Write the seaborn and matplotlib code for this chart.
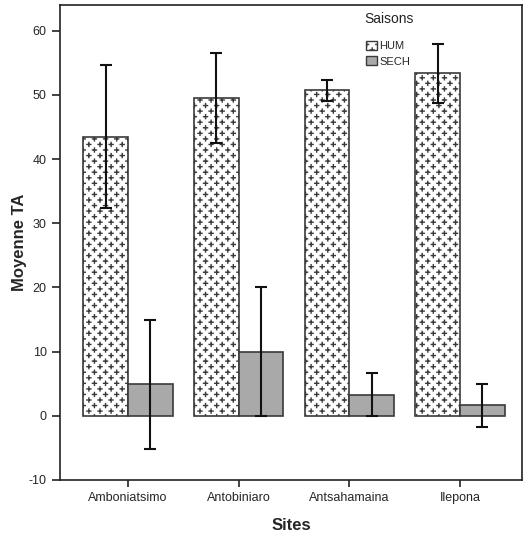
import numpy as np
import pandas as pd
import matplotlib
matplotlib.use("Agg")
import matplotlib.pyplot as plt
import matplotlib.hatch as mhatch
import matplotlib.patches as mpatches
from matplotlib.path import Path
import seaborn as sns

# ---------------- data ----------------
sites = ["Amboniatsimo", "Antobiniaro", "Antsahamaina", "Ilepona"]
seasons = ["HUM", "SECH"]
hum_mean = [43.5, 49.5, 50.7, 53.4]
hum_low = [32.4, 42.5, 49.1, 48.8]
hum_high = [54.6, 56.5, 52.3, 58.0]
sech_mean = [5.0, 10.0, 3.3, 1.7]
sech_low = [-5.1, 0.0, 0.0, -1.7]
sech_high = [15.0, 20.0, 6.7, 4.9]
yticks = [-10, 0, 10, 20, 30, 40, 50, 60]


# ---------------- custom "plus lattice" hatch (replaces '*') ----------------
class PlusLattice(mhatch.HatchPatternBase):
    def __init__(self, hatch, density):
        n = hatch.count('*') * 9
        self.pts = None
        if n:
            rows = 2 * n
            pts = []
            for r in range(rows + 1):
                y = r / rows
                if r % 2 == 0:
                    xs = np.arange(n + 1) / n
                else:
                    xs = (np.arange(n) + 0.5) / n
                for x in xs:
                    pts.append((x, y))
            self.pts = np.array(pts)
            self.num_vertices = len(pts) * 4
        else:
            self.num_vertices = 0

    def set_vertices_and_codes(self, vertices, codes):
        a = 0.02
        off = np.array([[-a, 0], [a, 0], [0, -a], [0, a]])
        cds = np.array([Path.MOVETO, Path.LINETO, Path.MOVETO, Path.LINETO])
        k = 0
        for p in self.pts:
            vertices[k:k + 4] = p + off
            codes[k:k + 4] = cds
            k += 4


mhatch._hatch_types = [PlusLattice if t is mhatch.Stars else t
                       for t in mhatch._hatch_types]

# ---------------- figure ----------------
sns.set_theme(style="ticks")
plt.rcParams['font.family'] = ['Liberation Sans', 'DejaVu Sans']
plt.rcParams['hatch.linewidth'] = 1.0

df = pd.DataFrame({
    "Sites": sites * 2,
    "Saisons": [seasons[0]] * len(sites) + [seasons[1]] * len(sites),
    "Moyenne TA": hum_mean + sech_mean,
})

fig = plt.figure(figsize=(5.24, 5.36), dpi=100)
ax = fig.add_axes([0.1145, 0.1045, 0.8815, 0.886])

edge = "#3a3a3a"
palette = {"HUM": "white", "SECH": "#a9a9a9"}
sns.barplot(data=df, x="Sites", y="Moyenne TA", hue="Saisons", order=sites,
            hue_order=seasons, palette=palette, errorbar=None, width=0.81,
            edgecolor=edge, linewidth=1.2, saturation=1, ax=ax, legend=False)

# hatch HUM bars and add error bars
for cont, season, lows, highs, means in zip(
        ax.containers, seasons, [hum_low, sech_low], [hum_high, sech_high],
        [hum_mean, sech_mean]):
    xs = []
    for bar in cont:
        xs.append(bar.get_x() + bar.get_width() / 2)
        if season == "HUM":
            bar.set_hatch('*')
    means = np.array(means)
    yerr = np.vstack([means - np.array(lows), np.array(highs) - means])
    ax.errorbar(xs, means, yerr=yerr, fmt='none', ecolor='#111111',
                elinewidth=1.5, capsize=4, capthick=1.5, zorder=5)

ax.set_ylim(-10, 64)
ax.set_xlim(-0.615, 3.56)
ax.set_yticks(yticks)
ax.set_yticklabels([str(v) for v in yticks], fontsize=9)
ax.tick_params(axis='x', labelsize=9, length=5, width=1.2, color='#222222')
ax.tick_params(axis='y', length=6, width=1.2, color='#222222')
for s in ax.spines.values():
    s.set_visible(True)
    s.set_color('#222222')
    s.set_linewidth(1.2)

ax.set_xlabel("Sites", fontsize=12, fontweight='bold', labelpad=10)
ax.set_ylabel("Moyenne TA", fontsize=12, fontweight='bold', labelpad=1)

# legend
ax.text(0.658, 0.985, "Saisons", transform=ax.transAxes, fontsize=10,
        ha='left', va='top', color='#222222')
handles = [mpatches.Patch(facecolor=palette[s], edgecolor=edge,
                          hatch='*' if s == "HUM" else None, linewidth=1.0,
                          label=s) for s in seasons]
ax.legend(handles=handles, loc='upper left', bbox_to_anchor=(0.663, 0.925),
          frameon=False, fontsize=8, handlelength=1.0, handleheight=0.9,
          handletextpad=0.2, labelspacing=0.45, borderpad=0, borderaxespad=0)

fig.savefig("out.png", dpi=100)
